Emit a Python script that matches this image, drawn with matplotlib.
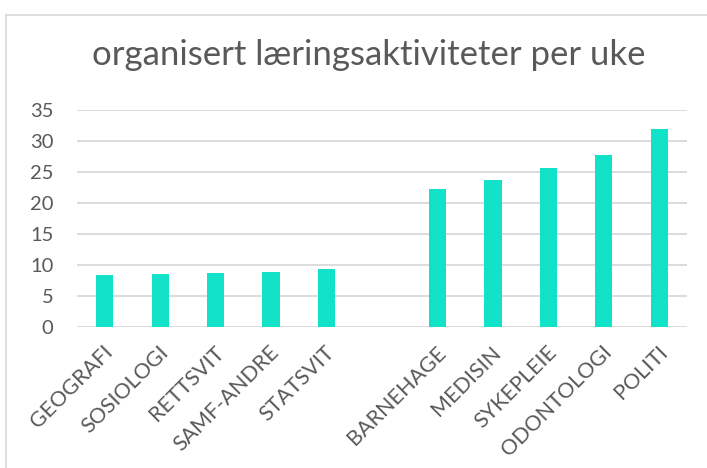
import matplotlib
matplotlib.use('Agg')
import matplotlib.pyplot as plt
from matplotlib.lines import Line2D

# fag og timer per uke (tom plass mellom de to gruppene)
fag = ['GEOGRAFI', 'SOSIOLOGI', 'RETTSVIT', 'SAMF-ANDRE', 'STATSVIT', '',
       'BARNEHAGE', 'MEDISIN', 'SYKEPLEIE', 'ODONTOLOGI', 'POLITI']
timer = [8.35, 8.5, 8.7, 8.85, 9.3, 0,
         22.2, 23.7, 25.6, 27.7, 31.9]
y_ticks = [0, 5, 10, 15, 20, 25, 30, 35]

plt.rcParams['font.family'] = ['Lato', 'DejaVu Sans']
grey = '#595959'

fig = plt.figure(figsize=(7.07, 4.68), dpi=100)
ax = fig.add_axes([77/707, 141/468, 610/707, 217/468])

x = list(range(len(fag)))
ax.bar(x, timer, width=0.31, color='#12E2C8', zorder=3)

ax.set_xlim(-0.5, len(fag) - 0.5)
ax.set_ylim(0, 35)
ax.set_yticks(y_ticks)
ax.set_yticklabels([str(v) for v in y_ticks], fontsize=14.5, color=grey)
# etikettene slutter litt til hoyre for stolpen, som i Excel
ax.set_xticks([i + 0.09 for i in x])
ax.set_xticklabels(fag, rotation=45, ha='right', va='center',
                   rotation_mode='anchor', fontsize=15.5, color=grey)
ax.tick_params(axis='y', length=0, pad=17)
ax.tick_params(axis='x', length=0, pad=16)
ax.grid(axis='y', color='#D9D9D9', linewidth=1.3, zorder=0)
for s in ax.spines.values():
    s.set_visible(False)

fig.text(0.521, (468-65)/468, 'organisert læringsaktiviteter per uke',
         ha='center', va='baseline', fontsize=25, color=grey)

# ramme rundt diagrammet
fig.add_artist(Line2D([6/707, 6/707], [0, 1 - 15/468], color='#D9D9D9', lw=1.2,
                      transform=fig.transFigure))
fig.add_artist(Line2D([6/707, 1], [1 - 15/468, 1 - 15/468], color='#D9D9D9', lw=1.2,
                      transform=fig.transFigure))

plt.savefig('out.png', dpi=100)
plt.close('all')
